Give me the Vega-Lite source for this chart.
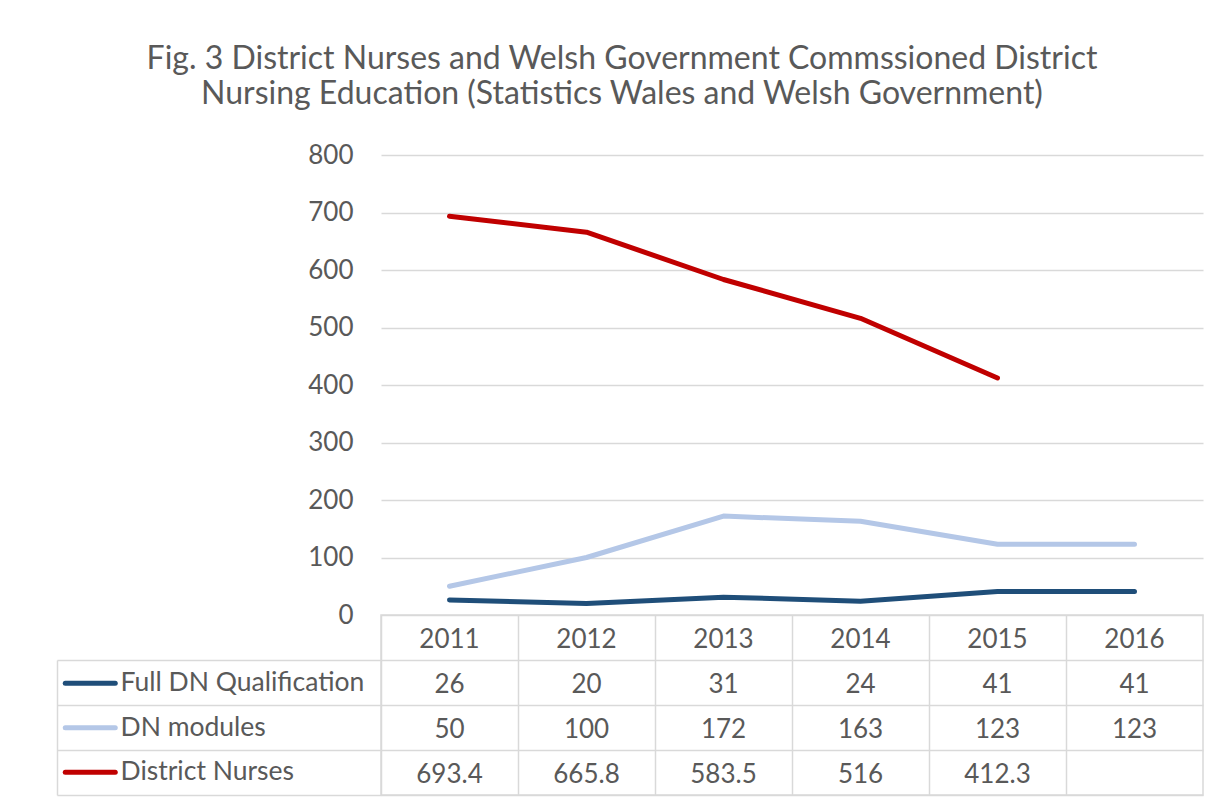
{
  "$schema": "https://vega.github.io/schema/vega-lite/v6.json",
  "autosize": {"type": "pad"},
  "padding": {"left": 55, "top": 43, "right": 17, "bottom": 4},
  "background": "#ffffff",
  "config": {
    "font": "Lato",
    "view": {"stroke": null}
  },
  "title": {
    "text": ["Fig. 3 District Nurses and Welsh Government Commssioned District", "Nursing Education (Statistics Wales and Welsh Government)"],
    "fontSize": 32,
    "font": "Lato",
    "fontWeight": "normal",
    "color": "#595959",
    "anchor": "middle",
    "frame": "group",
    "dx": -170,
    "lineHeight": 35,
    "offset": 31
  },
  "datasets": {
    "table": [
      {"year": "2011", "series": "Full DN Qualification", "value": 26},
      {"year": "2012", "series": "Full DN Qualification", "value": 20},
      {"year": "2013", "series": "Full DN Qualification", "value": 31},
      {"year": "2014", "series": "Full DN Qualification", "value": 24},
      {"year": "2015", "series": "Full DN Qualification", "value": 41},
      {"year": "2016", "series": "Full DN Qualification", "value": 41},
      {"year": "2011", "series": "DN modules", "value": 50},
      {"year": "2012", "series": "DN modules", "value": 100},
      {"year": "2013", "series": "DN modules", "value": 172},
      {"year": "2014", "series": "DN modules", "value": 163},
      {"year": "2015", "series": "DN modules", "value": 123},
      {"year": "2016", "series": "DN modules", "value": 123},
      {"year": "2011", "series": "District Nurses", "value": 693.4},
      {"year": "2012", "series": "District Nurses", "value": 665.8},
      {"year": "2013", "series": "District Nurses", "value": 583.5},
      {"year": "2014", "series": "District Nurses", "value": 516},
      {"year": "2015", "series": "District Nurses", "value": 412.3}
    ]
  },
  "spacing": 0,
  "bounds": "flush",
  "vconcat": [
    {
      "width": 822,
      "height": 460,
      "data": {"name": "table"},
      "mark": {"type": "line", "strokeWidth": 5, "strokeCap": "round", "strokeJoin": "round"},
      "encoding": {
        "x": {"field": "year", "type": "ordinal", "scale": {"type": "point", "padding": 0.5}, "axis": null},
        "y": {
          "field": "value", "type": "quantitative",
          "scale": {"domain": [0, 800], "nice": false},
          "axis": {"values": [0, 100, 200, 300, 400, 500, 600, 700, 800], "title": null, "domain": false, "ticks": false, "grid": true, "gridColor": "#d9d9d9", "gridWidth": 1.4, "labelFontSize": 26, "labelFont": "Lato", "labelColor": "#595959", "labelPadding": 28}
        },
        "color": {
          "field": "series", "type": "nominal",
          "scale": {"domain": ["Full DN Qualification", "DN modules", "District Nurses"], "range": ["#1F4E79", "#B4C7E7", "#C00000"]},
          "legend": {
            "orient": "none", "legendX": -304, "legendY": 515, "padding": 0,
            "title": null, "symbolType": "M-5,0H5", "symbolSize": 100, "symbolStrokeWidth": 5,
            "labelFontSize": 26.5, "labelFont": "Lato", "labelColor": "#595959", "labelOffset": 17, "labelLimit": 400,
            "rowPadding": 17.5,
            "encode": {"symbols": {"update": {"strokeCap": {"value": "round"}}}}
          }
        }
      }
    },
    {
      "width": 822,
      "height": 180,
      "view": {"stroke": "#d9d9d9", "strokeWidth": 1.5},
      "data": {"name": "table"},
      "resolve": {"scale": {"y": "independent"}, "axis": {"y": "independent"}},
      "layer": [
        {
          "transform": [{"filter": "datum.series === 'Full DN Qualification'"}],
          "mark": {"type": "text", "fontSize": 26, "font": "Lato", "color": "#595959", "dy": 2},
          "encoding": {
            "x": {"field": "year", "type": "ordinal", "scale": {"type": "band", "paddingInner": 0, "paddingOuter": 0}, "axis": {"orient": "bottom", "bandPosition": 0, "grid": true, "gridColor": "#d9d9d9", "gridWidth": 1.5, "labels": false, "ticks": false, "domain": false, "title": null}},
            "y": {"datum": "Year", "type": "nominal", "scale": {"type": "band", "domain": ["Year", "Full DN Qualification", "DN modules", "District Nurses"], "paddingInner": 0, "paddingOuter": 0}, "axis": {"orient": "left", "bandPosition": 1, "grid": true, "gridColor": "#d9d9d9", "gridWidth": 1.5, "ticks": true, "tickSize": 324, "tickColor": "#d9d9d9", "tickWidth": 1.5, "labels": false, "domain": false, "title": null}},
            "text": {"field": "year", "type": "nominal"}
          }
        },
        {
          "mark": {"type": "text", "fontSize": 26, "font": "Lato", "color": "#595959", "dy": 2},
          "encoding": {
            "x": {"field": "year", "type": "ordinal"},
            "y": {"field": "series", "type": "nominal", "scale": {"type": "band", "domain": ["Full DN Qualification", "DN modules", "District Nurses"], "range": [45, 180], "paddingInner": 0, "paddingOuter": 0}, "axis": {"orient": "left", "offset": 324, "domain": true, "domainColor": "#d9d9d9", "domainWidth": 1.5, "ticks": false, "labels": false, "grid": false, "title": null}},
            "text": {"field": "value", "type": "quantitative"}
          }
        }
      ]
    }
  ]
}
